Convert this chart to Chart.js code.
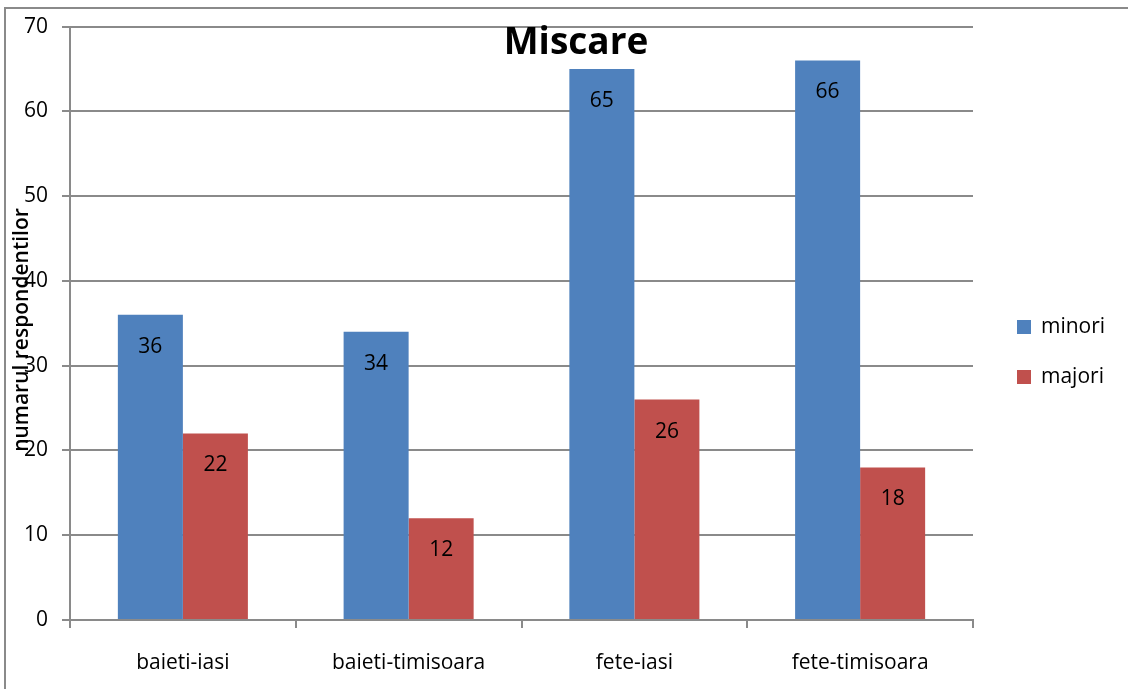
<!DOCTYPE html>
<html>
<head>
<meta charset="utf-8">
<script src="https://cdn.jsdelivr.net/npm/chart.js@4.4.0/dist/chart.umd.min.js"></script>
<style>
  html, body { margin: 0; padding: 0; background: #fff; }
  #wrap { width: 1128px; height: 689px; }
</style>
</head>
<body>
<div id="wrap"><canvas id="chart" width="1128" height="689"></canvas></div>
<script>
const categories = ["baieti-iasi", "baieti-timisoara", "fete-iasi", "fete-timisoara"];
const minori = [36, 34, 65, 66];
const majori = [22, 12, 26, 18];
const seriesNames = ["minori", "majori"];
const yTicks = [0, 10, 20, 30, 40, 50, 60, 70];

const FONT = "'Open Sans', 'Noto Sans', sans-serif";
const GRID = "#8a8a8a";
const BLUE = "#4f81bd";
const RED = "#c0504d";

// labels inside the bars, title, axis title, legend and outer frame
const decorations = {
    id: "decorations",
    afterDatasetsDraw(chart) {
        const ctx = chart.ctx;
        ctx.save();
        ctx.fillStyle = "#000";
        ctx.font = `21px ${FONT}`;
        ctx.textAlign = "center";
        ctx.textBaseline = "middle";
        chart.data.datasets.forEach((ds, i) => {
            chart.getDatasetMeta(i).data.forEach((bar, j) => {
                ctx.fillText(ds.data[j], bar.x, bar.y + 32);
            });
        });
        ctx.restore();
    },
    afterDraw(chart) {
        const ctx = chart.ctx;
        ctx.save();

        // outer frame (only top and left are visible)
        ctx.strokeStyle = GRID;
        ctx.lineWidth = 2;
        ctx.beginPath();
        ctx.moveTo(5, 700);
        ctx.lineTo(5, 8);
        ctx.lineTo(1140, 8);
        ctx.stroke();

        // title
        ctx.fillStyle = "#000";
        ctx.font = `bold 37px ${FONT}`;
        ctx.textAlign = "center";
        ctx.textBaseline = "middle";
        ctx.fillText("Miscare", 576, 43);

        // y axis title
        ctx.save();
        ctx.translate(22, 330);
        ctx.rotate(-Math.PI / 2);
        ctx.font = `600 21px ${FONT}`;
        ctx.fillText("numarul respondentilor", 0, 0);
        ctx.restore();

        // legend
        const colors = [BLUE, RED];
        ctx.font = `21px ${FONT}`;
        ctx.textAlign = "left";
        seriesNames.forEach((name, i) => {
            const y = 327 + i * 50;
            ctx.fillStyle = colors[i];
            ctx.fillRect(1017, y - 7, 14, 14);
            ctx.fillStyle = "#000";
            ctx.fillText(name, 1041, y);
        });
        ctx.restore();
    }
};

new Chart(document.getElementById("chart"), {
    type: "bar",
    data: {
        labels: categories,
        datasets: [
            { label: seriesNames[0], data: minori, backgroundColor: BLUE },
            { label: seriesNames[1], data: majori, backgroundColor: RED },
        ],
    },
    options: {
        responsive: false,
        animation: false,
        layout: { padding: { left: 0, top: 24, right: 155, bottom: 0 } },
        datasets: { bar: { categoryPercentage: 0.576, barPercentage: 1.0 } },
        plugins: {
            legend: { display: false },
            title: { display: false },
            tooltip: { enabled: false },
        },
        scales: {
            x: {
                afterFit(scale) { scale.height = 69; },
                grid: {
                    offset: true,
                    drawOnChartArea: false,
                    drawTicks: true,
                    tickLength: 8,
                    color: GRID,
                    lineWidth: 2,
                },
                border: { display: true, color: GRID, width: 2 },
                ticks: {
                    color: "#000",
                    font: { family: FONT, size: 21 },
                    padding: 22,
                },
            },
            y: {
                min: 0,
                max: 70,
                afterFit(scale) { scale.width = 70; },
                afterBuildTicks(scale) { scale.ticks = yTicks.map(v => ({ value: v })); },
                grid: {
                    color: GRID,
                    lineWidth: 2,
                    drawTicks: true,
                    tickLength: 8,
                },
                border: { display: true, color: GRID, width: 2 },
                ticks: {
                    color: "#000",
                    font: { family: FONT, size: 21 },
                    padding: 14,
                },
            },
        },
    },
    plugins: [decorations],
});
</script>
</body>
</html>
